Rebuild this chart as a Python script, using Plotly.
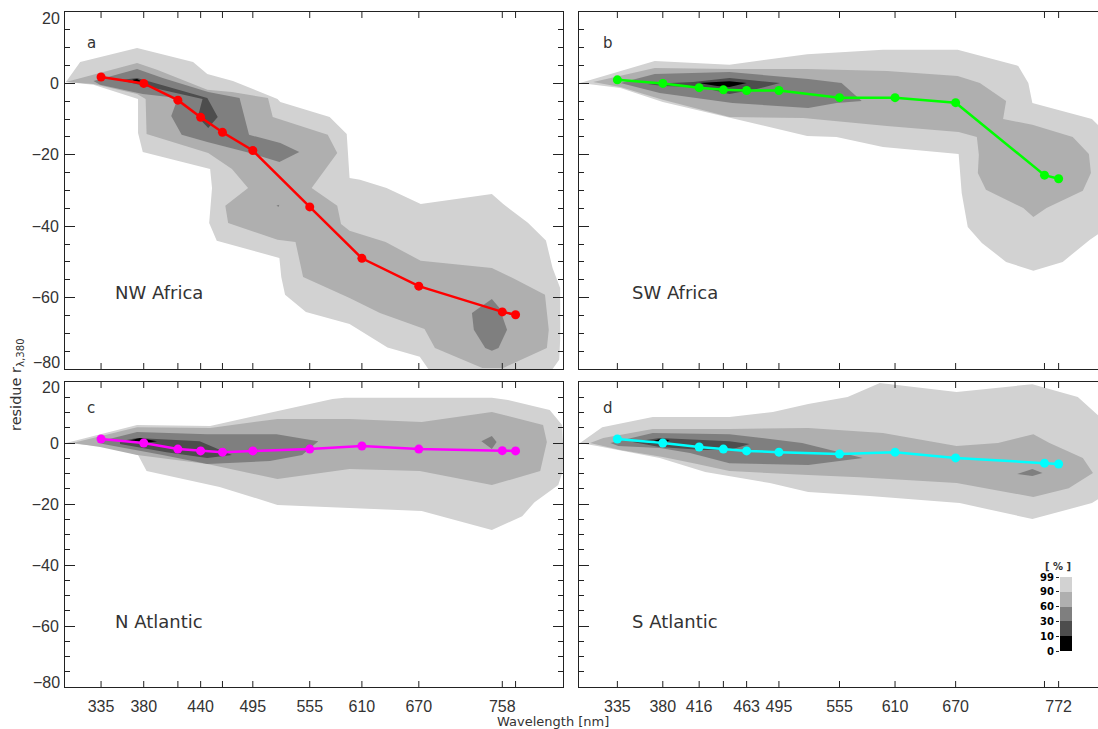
import plotly.graph_objects as go

W, H = 1098, 729

# bands of wavelength (nm)
WAVES = [335, 380, 416, 440, 463, 495, 555, 610, 670, 758, 772]
TICKS_LEFT = [335, 380, 440, 495, 555, 610, 670, 758]
TICKS_RIGHT = [335, 380, 416, 463, 495, 555, 610, 670, 772]
RESIDUE_TICKS = [0, -20, -40, -60]

# mean residue per region
NW_AFRICA = [1.8, 0, -4.7, -9.5, -13.7, -18.8, -34.6, -49, -56.8, -64, -64.8]
SW_AFRICA = [1, 0, -1.2, -1.8, -2, -2, -4, -4, -5.4, -25.7, -26.7]
N_ATLANTIC = [1.3, 0, -2, -2.6, -3, -2.6, -2, -1, -2, -2.5, -2.6]
S_ATLANTIC = [1.3, 0, -1.3, -2, -2.6, -3, -3.6, -3, -4.9, -6.6, -6.9]

# contour outlines (wavelength, residue), one list per level
a_99 = [(298, 0.4), (313, 6), (373, 9.9), (432, 6), (447, 2.6), (474, 0.7), (521, -4.4), (524, -5.2),
        (576, -9.4), (594, -14.2), (597, -26.5), (608, -27), (636, -29.3), (672, -33.8), (747, -31),
        (759, -33.8), (785, -39), (804, -44), (811, -51.7), (819, -57.3), (819, -71.8), (818, -77.4),
        (811, -80), (680, -80), (671, -76.6), (637, -74), (597, -67.4), (551, -64), (529, -59.2),
        (525, -54.2), (523, -48.9), (457, -44.1), (449, -39.1), (452, -29.3), (450, -24), (379, -19.2),
        (374, -13.9), (374, -4.4), (327, -0.4)]
a_90 = [(298, 0.4), (373, 5.7), (394, 3.8), (447, -1.8), (473, -2.4), (511, -4.1), (516, -9.4), (574, -14.4),
        (584, -19.5), (557, -29.3), (584, -34.3), (588, -39.4), (597, -41.3), (635, -44.4), (672, -49.7),
        (747, -51.7), (769, -54.5), (803, -59.2), (807, -69), (805, -74.1), (759, -79.7), (737, -79.7),
        (687, -74.1), (676, -68.8), (629, -64.3), (597, -60.1), (548, -54.2), (540, -44.4), (521, -43.8),
        (469, -39.1), (466, -34.3), (490, -29.3), (473, -24), (448, -19.5), (383, -14.2), (382, -4.4),
        (373, -3), (327, -0.2)]
a_60 = [(327, 0.7), (373, 4), (400, 1.5), (448, -2.4), (481, -4.1), (491, -14.4), (524, -16.7), (544, -19.2),
        (523, -22), (492, -19.5), (447, -16.4), (420, -14.4), (409, -9.1), (416, -4.1), (379, -3), (334, -0.4)]
a_60b = [(747, -60.4), (755, -62.9), (763, -69), (754, -74.1), (747, -74.9), (740, -74.1), (728, -69), (726, -64.3)]
a_60c = [(520, -34.2), (523, -34), (522, -34.6)]
a_30 = [(358, 1), (373, 1.5), (447, -4.1), (458, -9.4), (448, -12.5), (437, -9.4), (442, -4.4), (387, -1), (358, 0.7)]
a_10 = [(368, 1), (373, 1.2), (379, 0.4), (371, 0.4)]

b_99 = [(298, 0.1), (357, 5.2), (372, 6.3), (446, 5.2), (523, 8.2), (598, 9.4), (672, 9.4), (732, 4.9), (742, 0.1),
        (746, -5.5), (805, -10), (813, -12.2), (813, -41.9), (803, -43.8), (776, -50), (747, -52.5), (720, -50),
        (696, -44.7), (682, -40.2), (676, -30.7), (673, -19.8), (598, -17.8), (552, -15), (523, -14.7), (448, -9.7),
        (380, -5.2), (338, -1.3)]
b_90 = [(311, 0.4), (372, 4.3), (446, 4), (523, 4), (602, 3.5), (672, 2.1), (694, 0.1), (720, -4.9), (717, -10),
        (746, -11.6), (786, -15), (802, -19.8), (804, -25.1), (796, -30.1), (760, -34.9), (747, -37.4), (737, -34.9),
        (700, -29.8), (692, -25.1), (693, -20), (691, -15), (673, -13.6), (602, -11.9), (519, -9.7), (446, -9.4),
        (380, -4.6), (338, -1)]
b_60 = [(338, 0.1), (372, 2.6), (446, 3.2), (524, 1.2), (557, 0.1), (577, -4.9), (552, -5.5), (524, -6.9),
        (449, -5.5), (377, -2.7)]
b_30 = [(365, -0.2), (410, 0.4), (446, 1.5), (496, 0.1), (473, -1.6), (446, -3), (417, -1), (380, -0.7)]
b_10 = [(415, 0.1), (446, 0.6), (463, 0.1), (446, -1), (434, -0.7)]

c_99 = [(298, 0), (373, 5.9), (450, 5.6), (520, 10.5), (579, 14.4), (592, 14.8), (747, 14.8), (764, 14.1), (808, 10.8),
        (821, 5.9), (822, 0), (822, -8.9), (817, -13.8), (792, -19.4), (779, -24), (747, -28.5), (673, -22.3),
        (521, -20.3), (460, -14.4), (383, -9.2), (374, -3.9), (344, -1.3)]
c_90 = [(305, 0), (373, 5.2), (450, 4.9), (521, 7.9), (597, 7.9), (673, 6.9), (747, 10.2), (801, 5.9), (805, 0.3),
        (798, -9.2), (747, -13.8), (671, -9.2), (597, -8.5), (521, -11.8), (447, -6.9), (373, -3.9), (334, -1.3)]
c_60 = [(331, 0.3), (373, 3.6), (447, 2.9), (520, 2.9), (564, 0.6), (547, -3.9), (513, -5.9), (447, -6.9),
        (400, -3.9), (337, -0.3)]
c_60b = [(736, 0.6), (747, 2.3), (752, 0.3), (747, -2)]
c_30 = [(355, 0.6), (373, 1.6), (439, 0.6), (473, -3.9), (447, -4.9), (404, -3), (355, -0.3)]
c_10 = [(362, 0.6), (376, 1.6), (394, 0.6), (379, -0.2)]

d_99 = [(298, 0), (320, 5.2), (370, 8.5), (446, 8.5), (489, 10.2), (524, 12.8), (563, 15.1), (595, 19.7), (671, 16.7),
        (746, 19.3), (791, 15.1), (806, 10.8), (813, 8.5), (813, -18), (805, -19.7), (746, -24.9), (674, -19.7),
        (585, -17.4), (524, -16.1), (486, -13.1), (422, -9.5), (377, -4.9), (315, -1)]
d_90 = [(308, 0), (321, 1.6), (370, 4.6), (446, 4.6), (524, 4.9), (585, 3.6), (598, 3.3), (671, -1), (712, 0), (747, 2.9),
        (763, 0), (796, -4.9), (806, -9.8), (782, -14.8), (747, -17.7), (671, -13.1), (575, -11.2), (524, -10.5),
        (446, -9.2), (414, -6.9), (380, -4.6), (338, -2.3)]
d_60 = [(328, 0), (370, 3.3), (446, 2.9), (518, 0), (578, -4.9), (524, -7.2), (446, -6.6), (407, -3.3), (377, -1.6), (336, -1)]
d_60b = [(731, -10.2), (746, -8.5), (756, -9.8), (746, -10.8)]
d_30 = [(350, 0.3), (377, 1.6), (446, 0.6), (466, -0.3), (446, -2.3), (420, -2.3), (377, -1.3)]
d_10 = [(365, 0), (377, 1.3), (387, 1), (379, -0.3)]

# colour scale of the percentiles
LEVELS = ['0', '10', '30', '60', '90', '99']
GREY_99, GREY_90, GREY_60, GREY_30, GREY_10 = '#d2d2d2', '#afafaf', '#7f7f7f', '#4d4d4d', '#000000'

INK = '#222222'
TEXT = '#333333'
FONT = 'Liberation Sans'
LABEL_FONT = 'DejaVu Sans'

fig = go.Figure()


def px_x(x):
    return x / W


def px_y(y):
    return 1 - y / H


def outline(poly, color, ax):
    fig.add_trace(go.Scatter(
        x=[p[0] for p in poly], y=[p[1] for p in poly],
        mode='lines', fill='toself', fillcolor=color, line=dict(width=0),
        xaxis='x' + ax, yaxis='y' + ax, showlegend=False, hoverinfo='skip'))


def panel(ax, polys, values, color, xdom, ydom, xmax, ticks, show_x, show_y, mirror_y):
    for poly, c in polys:
        outline(poly, c, ax)
    fig.add_trace(go.Scatter(
        x=WAVES, y=values, mode='lines+markers',
        line=dict(color=color, width=2.5), marker=dict(color=color, size=9),
        xaxis='x' + ax, yaxis='y' + ax, showlegend=False))
    fig.layout['xaxis' + ax] = dict(
        domain=[px_x(xdom[0]), px_x(xdom[1])], range=[297, xmax], anchor='y' + ax, automargin=False,
        tickmode='array', tickvals=ticks, ticks='', linecolor=INK, linewidth=1, mirror=True,
        showgrid=False, zeroline=False, showticklabels=show_x, ticklabelstandoff=5,
        tickfont=dict(family=FONT, size=16, color=TEXT))
    fig.layout['yaxis' + ax] = dict(
        domain=[px_y(ydom[1]), px_y(ydom[0])], range=[-80, 20], anchor='x' + ax, automargin=False,
        tickmode='array', tickvals=RESIDUE_TICKS, ticks='inside', ticklen=10, tickwidth=1, tickcolor=INK,
        minor=dict(dtick=5, tick0=0, ticks='inside', ticklen=5, tickwidth=1, tickcolor=INK, showgrid=False),
        linecolor=INK, linewidth=1, mirror='ticks' if mirror_y else False, showgrid=False, zeroline=False,
        showticklabels=show_y, ticklabelstandoff=2, tickfont=dict(family=FONT, size=16, color=TEXT))
    # wavelength ticks along the top and bottom frame
    frac = 6 / (ydom[1] - ydom[0])
    for w in WAVES:
        for y0, y1 in [(0, frac), (1 - frac, 1)]:
            fig.add_shape(type='line', x0=w, x1=w, y0=y0, y1=y1, xref='x' + ax, yref='y' + ax + ' domain',
                          line=dict(color=INK, width=1))


panel('', [(a_99, GREY_99), (a_90, GREY_90), (a_60, GREY_60), (a_60b, GREY_60), (a_60c, GREY_60),
           (a_30, GREY_30), (a_10, GREY_10)],
      NW_AFRICA, '#ff0000', (65, 563), (12, 369), 822, TICKS_LEFT, False, True, True)
panel('2', [(b_99, GREY_99), (b_90, GREY_90), (b_60, GREY_60), (b_30, GREY_30), (b_10, GREY_10)],
      SW_AFRICA, '#00ff00', (579, 1098), (12, 369), 811, TICKS_RIGHT, False, False, False)
panel('3', [(c_99, GREY_99), (c_90, GREY_90), (c_60, GREY_60), (c_60b, GREY_60), (c_30, GREY_30), (c_10, GREY_10)],
      N_ATLANTIC, '#ff00ff', (65, 563), (382, 687), 822, TICKS_LEFT, True, True, True)
panel('4', [(d_99, GREY_99), (d_90, GREY_90), (d_60, GREY_60), (d_60b, GREY_60), (d_30, GREY_30), (d_10, GREY_10)],
      S_ATLANTIC, '#00ffff', (579, 1098), (382, 687), 811, TICKS_RIGHT, True, False, False)

# small colour key, lower right
fig.add_trace(go.Heatmap(
    z=[[0], [1], [2], [3], [4]], x=[0], y=[0.5, 1.5, 2.5, 3.5, 4.5], showscale=False,
    colorscale=[[0, GREY_10], [0.25, GREY_30], [0.5, GREY_60], [0.75, GREY_90], [1, GREY_99]],
    xaxis='x5', yaxis='y5', hoverinfo='skip'))
fig.layout.xaxis5 = dict(domain=[px_x(1060), px_x(1072)], anchor='y5', visible=False, automargin=False)
fig.layout.yaxis5 = dict(
    domain=[px_y(651), px_y(577)], range=[0, 5], anchor='x5', tickmode='array', automargin=False,
    tickvals=list(range(6)), ticktext=LEVELS, ticks='outside', ticklen=3, tickcolor=INK,
    showline=False, showgrid=False, zeroline=False,
    tickfont=dict(family=LABEL_FONT, size=10, color='#000000', weight='bold'))


def label(text, x, y, size=18, anchor='left', angle=0, family=LABEL_FONT):
    fig.add_annotation(
        text=text, x=px_x(x), y=px_y(y), xref='paper', yref='paper', showarrow=False,
        xanchor=anchor, yanchor='middle', textangle=angle,
        font=dict(family=family, size=size, color=TEXT))


for tag, x, y in [('a', 85, 43), ('b', 601, 43), ('c', 85, 408), ('d', 601, 408)]:
    label(tag, x, y, size=15)
for name, x, y in [('NW Africa', 113, 292), ('SW Africa', 630, 292),
                   ('N Atlantic', 113, 621), ('S Atlantic', 630, 621)]:
    label(name, x, y)
# end labels of the residue axis sit inside the frame
for text, y in [('20', 18), ('−80', 362), ('20', 387), ('−80', 682)]:
    label(text, 62, y, size=16, anchor='right', family=FONT)
label('residue r<sub>λ,380</sub>', 17, 385, size=14.5, anchor='center', angle=-90)
label('Wavelength [nm]', 553, 721, size=13, anchor='center')
label('<b>[ % ]</b>', 1058, 566, size=10, anchor='center')

fig.update_layout(width=W, height=H, margin=dict(l=0, r=0, t=0, b=0),
                  plot_bgcolor='white', paper_bgcolor='white', showlegend=False)

fig.write_html('out.html', config=dict(displayModeBar=False),
               post_script="document.body.style.margin='0';document.body.style.overflow='hidden';")
